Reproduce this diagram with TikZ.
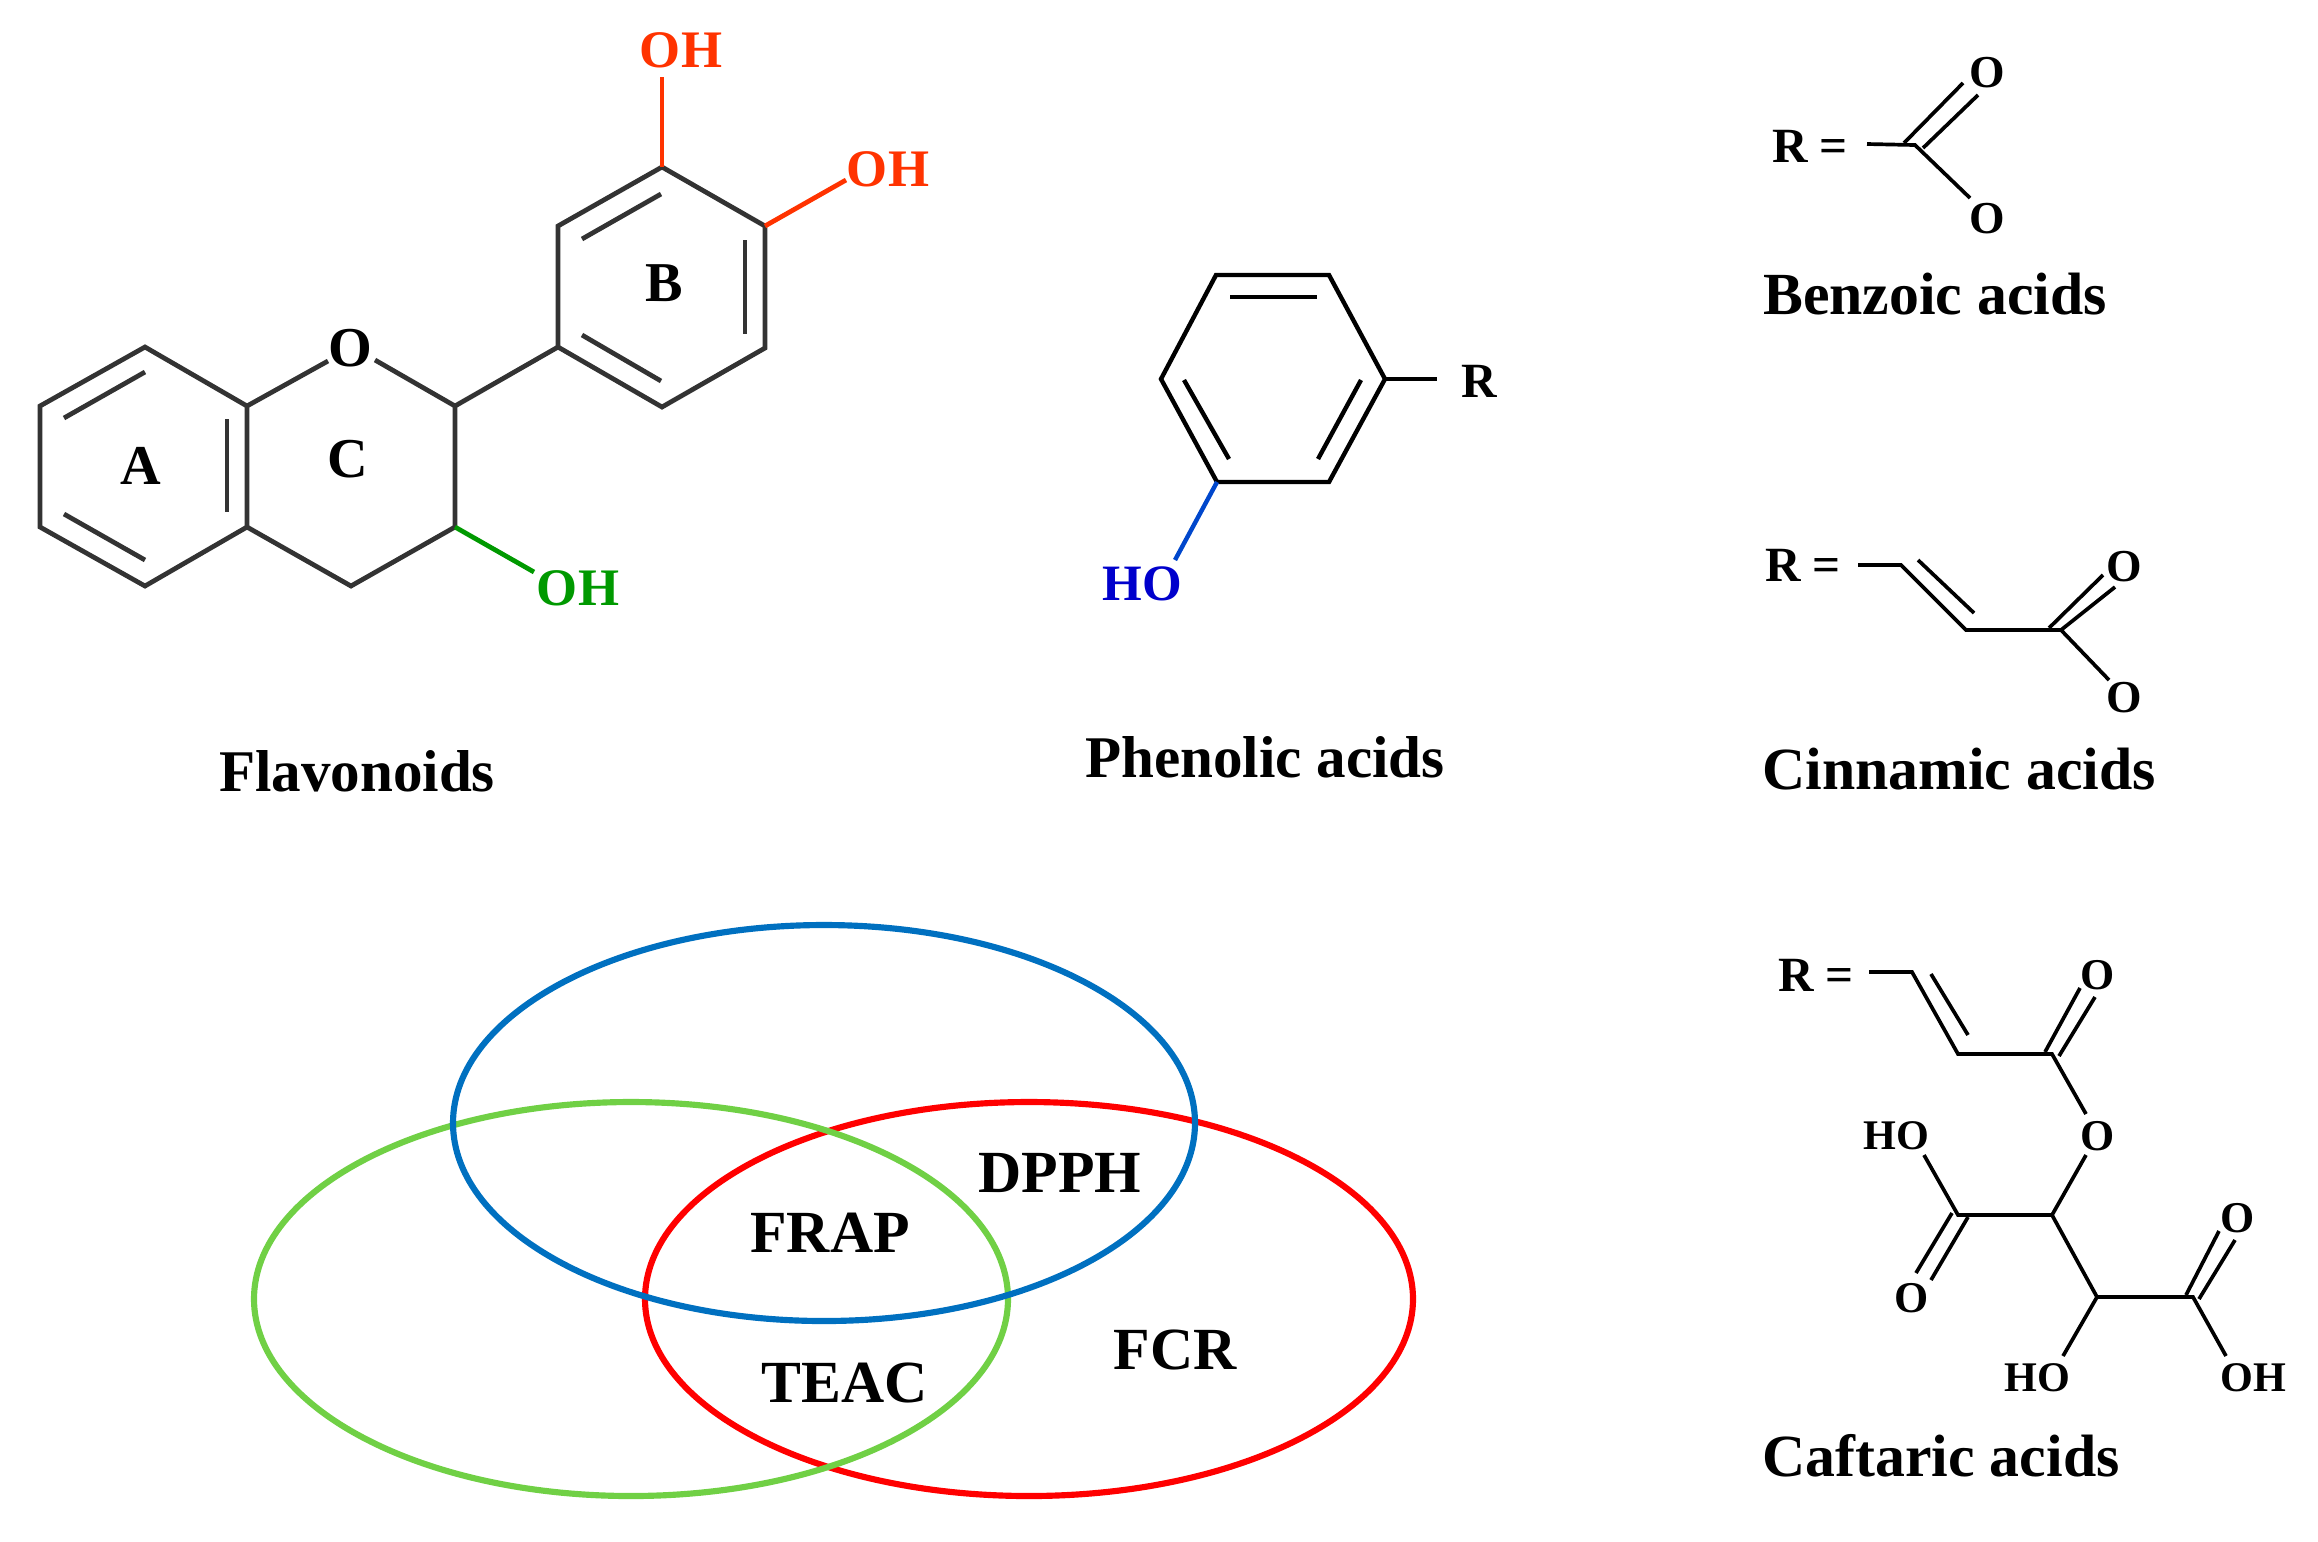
\documentclass[tikz,border=0pt]{standalone}
\usepackage{fontspec}
\setmainfont{Liberation Serif}
\definecolor{flavgrey}{HTML}{333333}
\definecolor{hydred}{HTML}{FF3300}
\definecolor{hydgreen}{HTML}{009900}
\definecolor{hydblue}{HTML}{0047CC}
\definecolor{vennblue}{HTML}{0070C0}
\definecolor{venngreen}{HTML}{70D045}
\definecolor{vennred}{HTML}{FF0000}
\tikzset{
  lab/.style={font=\bfseries\fontsize{#1}{#1}\selectfont, inner sep=0pt},
  flavbond/.style={draw=flavgrey, line width=1.35pt, line join=miter},
  bond/.style={draw=black, line width=1.05pt, line join=miter},
  ringbond/.style={draw=black, line width=1.25pt, line join=miter},
  venn/.style={line width=1.75pt}
}
\begin{document}
\begin{tikzpicture}[x=0.01cm,y=-0.01cm]
\useasboundingbox (0,0) rectangle (2318,1541);

% Flavonoids: rings A, C, B
\foreach \n/\p in {a1/{145,347},a2/{247,406},a3/{247,527},a4/{145,586},a5/{40,527},a6/{40,406},
  c2/{455,406},c3/{455,527},c4/{351,586},oa/{328,361},ob/{375,360},
  b1/{558,347},b2/{558,226},b3/{662,167},b4/{765,226},b5/{765,348},b6/{662,407},
  ohtop/{662,77},ohright/{846,180},ohgreen/{534,572}} {
  \coordinate (\n) at (\p);
}
\draw[flavbond] (a1) -- (a2) -- (a3) -- (a4) -- (a5) -- (a6) -- cycle;
\draw[flavbond] (a2) -- (oa);
\draw[flavbond] (ob) -- (c2) -- (c3) -- (c4) -- (a3);
\draw[flavbond] (c2) -- (b1);
\draw[flavbond] (b1) -- (b2) -- (b3) -- (b4) -- (b5) -- (b6) -- cycle;
\foreach \s/\e in {{145,372}/{64,418},{227,419}/{227,512},{64,514}/{145,560},
  {582,239}/{661,194},{745,240}/{745,334},{582,335}/{661,381}} {
  \draw[flavbond] (\s) -- (\e);
}
\draw[hydred, line width=1.35pt] (b3) -- (ohtop);
\draw[hydred, line width=1.35pt] (b4) -- (ohright);
\draw[hydgreen, line width=1.35pt] (c3) -- (ohgreen);
\node[lab=15, hydred] (fOHa) at (681,50) {OH};
\node[lab=15, hydred] (fOHb) at (888,169) {OH};
\node[lab=15, hydgreen] (fOHc) at (578,588) {OH};
\node[lab=16] (fO) at (350,348) {O};
\node[lab=16] (ringA) at (141,466) {A};
\node[lab=16] (ringC) at (348,459) {C};
\node[lab=16] (ringB) at (664,283) {B};
\node[lab=16.8] (flav) at (357,771) {Flavonoids};

% Phenolic acids
\foreach \n/\p in {p1/{1216,275},p2/{1329,275},p3/{1385,379},p4/{1329,482},p5/{1217,482},p6/{1161,379},
  pr/{1437,379},pho/{1175,560}} {
  \coordinate (\n) at (\p);
}
\draw[ringbond] (p1) -- (p2) -- (p3) -- (p4) -- (p5) -- (p6) -- cycle;
\foreach \s/\e in {{1230,297}/{1317,297},{1184,380}/{1229,459},{1361,380}/{1318,459}} {
  \draw[ringbond] (\s) -- (\e);
}
\draw[ringbond] (p3) -- (pr);
\draw[hydblue, line width=1.25pt] (p5) -- (pho);
\node[lab=14] (pR) at (1479,381) {R};
\node[lab=14.5, text=blue!80!black] (pHO) at (1142,584) {HO};
\node[lab=16.8] (phen) at (1265,757) {Phenolic acids};

% Benzoic acids
\foreach \n/\p in {bs/{1867,144},bc/{1915,145},bo/{1970,198}} {
  \coordinate (\n) at (\p);
}
\draw[bond] (bs) -- (bc) -- (bo);
\draw[bond] (1904,143) -- (1963,83);
\draw[bond] (1923,148) -- (1978,95);
\node[lab=14] (bR) at (1810,146) {R =};
\node[lab=13] (bOa) at (1987,73) {O};
\node[lab=13] (bOb) at (1987,219) {O};
\node[lab=17] (benz) at (1935,294) {Benzoic acids};

% Cinnamic acids
\foreach \n/\p in {cs/{1858,565},c1/{1901,565},cd/{1966,630},ce/{2061,630},cf/{2109,680}} {
  \coordinate (\n) at (\p);
}
\draw[bond] (cs) -- (c1) -- (cd) -- (ce) -- (cf);
\draw[bond] (1918,560) -- (1974,613);
\draw[bond] (2049,628) -- (2103,575);
\draw[bond] (2061,630) -- (2115,587);
\node[lab=14] (cR) at (1803,565) {R =};
\node[lab=13] (cOa) at (2124,567) {O};
\node[lab=13] (cOb) at (2124,698) {O};
\node[lab=17] (cinn) at (1959,769) {Cinnamic acids};

% Caftaric acids
\foreach \n/\p in {ts/{1869,972},t1/{1912,972},t2/{1958,1054},t3/{2052,1054},t4/{2086,1114},
  t5/{2086,1155},t6/{2052,1215},t7/{1958,1215},t8/{1924,1155},
  t9/{2097,1297},t10/{2193,1297},t11/{2226,1356},t12/{2063,1356}} {
  \coordinate (\n) at (\p);
}
\draw[bond] (ts) -- (t1) -- (t2) -- (t3) -- (t4);
\draw[bond] (t5) -- (t6) -- (t7) -- (t8);
\draw[bond] (t6) -- (t9) -- (t10) -- (t11);
\draw[bond] (t9) -- (t12);
\foreach \s/\e in {{1931,974}/{1968,1035},{2045,1052}/{2080,988},{2059,1056}/{2095,997},
  {1952,1213}/{1916,1273},{1968,1217}/{1931,1280},
  {2186,1295}/{2219,1231},{2199,1299}/{2235,1240}} {
  \draw[bond] (\s) -- (\e);
}
\node[lab=14] (tR) at (1816,975) {R =};
\node[lab=12.5] (tOa) at (2098,975) {O};
\node[lab=12.5] (tOb) at (2098,1136) {O};
\node[lab=12.5] (tOc) at (1912,1298) {O};
\node[lab=12.5] (tOd) at (2238,1218) {O};
\node[lab=12] (tHOa) at (1896,1136) {HO};
\node[lab=12] (tHOb) at (2037,1378) {HO};
\node[lab=12] (tOH) at (2253,1378) {OH};
\node[lab=17] (caft) at (1941,1456) {Caftaric acids};

% Venn of the assays
\draw[venn, vennred] (1029,1299) ellipse [x radius=384, y radius=197];
\draw[venn, venngreen] (631,1299) ellipse [x radius=377, y radius=197];
\draw[venn, vennblue] (824,1123) ellipse [x radius=371, y radius=198];
\node[lab=17] (dpph) at (1060,1173) {DPPH};
\node[lab=17] (frap) at (830,1233) {FRAP};
\node[lab=17] (teac) at (845,1383) {TEAC};
\node[lab=17] (fcr) at (1175,1350) {FCR};

\end{tikzpicture}
\end{document}
